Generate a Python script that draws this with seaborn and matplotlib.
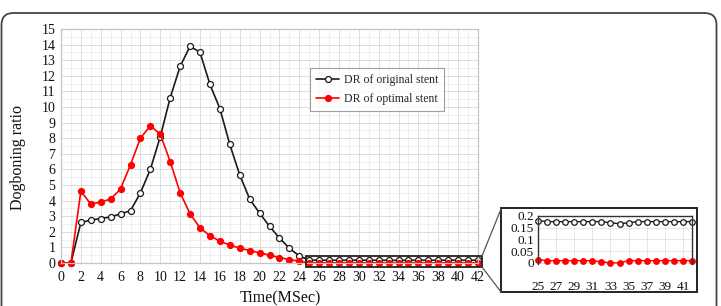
import matplotlib
matplotlib.use("Agg")
import matplotlib.pyplot as plt
import numpy as np
import pandas as pd
import seaborn as sns
from matplotlib.lines import Line2D
from matplotlib.patches import FancyBboxPatch, Rectangle
from matplotlib.ticker import MultipleLocator

sns.set_theme(style="whitegrid")
plt.rcParams["font.family"] = ["Liberation Serif", "DejaVu Serif"]

# time steps (MSec)
time = list(range(0, 43))

# dogboning ratio, original stent
dr_original = [0, 0, 2.6, 2.75, 2.85, 2.95, 3.15, 3.35, 4.5, 6.0,
               8.1, 10.6, 12.6, 13.9, 13.5, 11.45, 9.9, 7.6, 5.65, 4.1,
               3.2, 2.35, 1.6, 0.95, 0.45,
               0.18, 0.176, 0.176, 0.176, 0.176, 0.176, 0.176, 0.176, 0.171, 0.167,
               0.171, 0.176, 0.176, 0.176, 0.176, 0.176, 0.176, 0.176]

# dogboning ratio, optimal stent
dr_optimal = [0, 0, 4.6, 3.78, 3.9, 4.1, 4.75, 6.3, 8.0, 8.8,
              8.25, 6.5, 4.5, 3.15, 2.25, 1.75, 1.4, 1.15, 0.95, 0.8,
              0.65, 0.5, 0.35, 0.22, 0.12,
              0.014, 0.009, 0.009, 0.009, 0.009, 0.009, 0.009, 0.004, 0.0, 0.0,
              0.009, 0.009, 0.009, 0.009, 0.009, 0.009, 0.009, 0.009]

main_xticks = list(range(0, 43, 2))
main_yticks = list(range(0, 16))
inset_xticks = list(range(25, 42, 2))
inset_yticks = [0, 0.05, 0.1, 0.15, 0.2]
inset_ylabels = ["0", "0.05", "0.1", "0.15", "0.2"]

df = pd.DataFrame({"time": time, "original": dr_original, "optimal": dr_optimal})

W, H = 721, 306
fig = plt.figure(figsize=(W / 100, H / 100), dpi=100)


def px_axes(left, top, right, bottom):
    return fig.add_axes([left / W, (H - bottom) / H, (right - left) / W, (bottom - top) / H])


def draw_series(ax, data, ms, lw):
    sns.lineplot(data=data, x="time", y="original", ax=ax, color="#1a1a1a", lw=lw,
                 marker="o", ms=ms, mec="#1a1a1a", mew=0.9, label="DR of original stent",
                 clip_on=False)
    ax.lines[-1].set_markerfacecolor("white")
    sns.lineplot(data=data, x="time", y="optimal", ax=ax, color="#ff0000", lw=lw,
                 marker="o", ms=ms, mec="#ff0000", mew=0.9, label="DR of optimal stent",
                 clip_on=False)


# main axes
ax = px_axes(61, 29, 478, 263)
draw_series(ax, df, 4.3, 1.2)
ax.set_xlim(0, 42)
ax.set_ylim(0, 15)
ax.set_xticks(main_xticks)
ax.set_yticks(main_yticks)
ax.xaxis.set_minor_locator(MultipleLocator(1))
ax.yaxis.set_minor_locator(MultipleLocator(0.5))
ax.grid(True, which="major", color="#dcdcdc", lw=0.7)
ax.grid(True, which="minor", color="#ececec", lw=0.6)
ax.tick_params(axis="both", which="both", length=0, labelsize=10, colors="#111111")
ax.tick_params(axis="x", pad=6)
ax.tick_params(axis="y", pad=4)
for s in ax.spines.values():
    s.set_color("#c4c4c4")
    s.set_linewidth(0.9)
ax.set_xlabel("Time(MSec)", fontsize=11.5, color="#111111")
ax.set_ylabel("Dogboning ratio", fontsize=11.5, color="#111111")
ax.xaxis.set_label_coords(0.525, -0.115)
ax.yaxis.set_label_coords(-0.085, 0.45)
leg = ax.legend(loc="upper left", bbox_to_anchor=(0.597, 0.833), borderaxespad=0,
                fontsize=8.5, frameon=True, fancybox=False, handlelength=2.0,
                borderpad=0.5, labelspacing=0.6, handletextpad=0.4)
leg.get_frame().set_edgecolor("#888888")
leg.get_frame().set_linewidth(0.8)

# zoom rectangle on main axes
ax.add_patch(Rectangle((24.7, -0.26), 17.7, 0.71, fill=False, ec="#222222", lw=1.3,
                       clip_on=False, zorder=5))

# inset axes
axin = px_axes(538, 216, 692, 264)
inset_df = df[df["time"] >= 25]
draw_series(axin, inset_df, 4.0, 1.0)
if axin.legend_:
    axin.legend_.remove()
axin.set_xlim(25, 42)
axin.set_ylim(-0.005, 0.2)
axin.set_xticks(inset_xticks)
axin.set_yticks(inset_yticks)
axin.set_yticklabels(inset_ylabels)
axin.set_xlabel("")
axin.set_ylabel("")
axin.grid(True, color="#e2e2e2", lw=0.6)
axin.tick_params(axis="both", length=0, labelsize=9.5, colors="#111111")
axin.tick_params(axis="x", pad=12)
axin.tick_params(axis="y", pad=3)
for name, s in axin.spines.items():
    s.set_color("#333333")
    s.set_linewidth(1.0)
axin.spines["bottom"].set_visible(False)

# inset frame and connector lines (pixel coords)
fig.patches.append(Rectangle((501, H - 292), 196, 84, fill=False, ec="#222222", lw=1.4,
                             transform=None, figure=fig))
fig.lines.append(Line2D([482, 501], [H - 256, H - 209], color="#555555", lw=0.9,
                        transform=None, figure=fig))
fig.lines.append(Line2D([482, 501], [H - 267, H - 292], color="#555555", lw=0.9,
                        transform=None, figure=fig))

# rounded outer border
fig.patches.append(FancyBboxPatch((1.5, -30), 715, H - 13 + 30,
                                  boxstyle="round,pad=0,rounding_size=12",
                                  fill=False, ec="#444444", lw=1.3,
                                  transform=None, figure=fig))

fig.savefig("out.png", dpi=100, facecolor="white")
